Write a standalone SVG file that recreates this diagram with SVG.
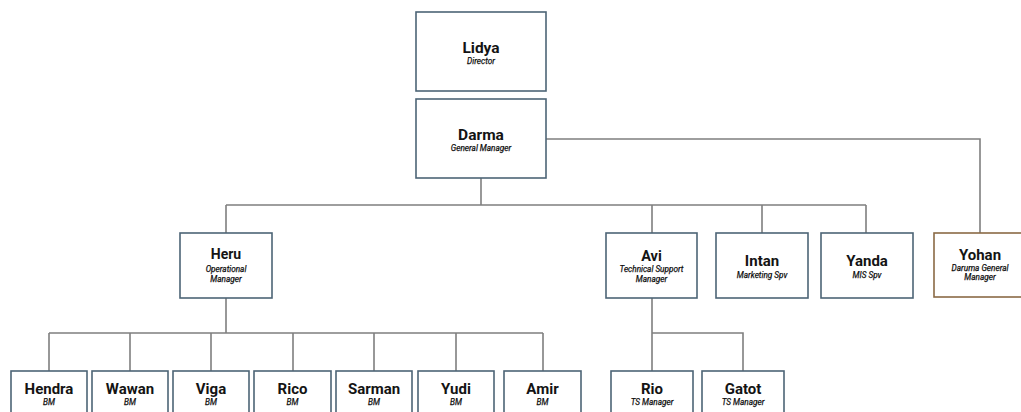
<svg xmlns="http://www.w3.org/2000/svg" width="1021" height="412" viewBox="0 0 1021 412">
<style>
.box{fill:#fff;stroke:#4d6476;stroke-width:1.6}
.brown{fill:#fff;stroke:#8a6a45;stroke-width:1.6}
.con{fill:none;stroke:#7f7f7f;stroke-width:1.6}
.nm{font-family:Roboto,"Liberation Sans",sans-serif;font-weight:bold;fill:#141414;text-anchor:middle}
.sub{font-family:Roboto,"Liberation Sans",sans-serif;font-style:italic;font-size:8.2px;fill:#111;stroke:#111;stroke-width:0.25;text-anchor:middle}
</style>
<rect width="1021" height="412" fill="#fff"/>
<g id="connectors">
<path class="con" d="M546 139H980V233"/>
<path class="con" d="M481 178V205"/>
<path class="con" d="M226 205H866M226 205V233M652 205V233M762 205V233M866 205V233"/>
<path class="con" d="M226 298V333M49 333H543M49 333V371M130 333V371M211 333V371M293 333V371M374 333V371M456 333V371M543 333V371"/>
<path class="con" d="M652 298V333H743V371M652 333V371"/>
</g>
<g id="lidya"><rect class="box" x="416" y="12" width="130" height="79"/><text class="nm" x="481" y="53" font-size="15.5">Lidya</text><text class="sub" x="481" y="63.5">Director</text></g>
<g id="darma"><rect class="box" x="416" y="99" width="130" height="79"/><text class="nm" x="481" y="140" font-size="15.5">Darma</text><text class="sub" x="481" y="151">General Manager</text></g>
<g id="heru"><rect class="box" x="180" y="233" width="92" height="65"/><text class="nm" x="226" y="259" font-size="14">Heru</text><text class="sub" x="226" y="272">Operational</text><text class="sub" x="226" y="282">Manager</text></g>
<g id="avi"><rect class="box" x="606" y="233" width="91" height="65"/><text class="nm" x="651.5" y="261" font-size="14.5">Avi</text><text class="sub" x="651.5" y="272">Technical Support</text><text class="sub" x="651.5" y="282">Manager</text></g>
<g id="intan"><rect class="box" x="716" y="233" width="92" height="65"/><text class="nm" x="762" y="266" font-size="15">Intan</text><text class="sub" x="762" y="277.5">Marketing Spv</text></g>
<g id="yanda"><rect class="box" x="821" y="233" width="92" height="65"/><text class="nm" x="867" y="266" font-size="15">Yanda</text><text class="sub" x="867" y="277.5">MIS Spv</text></g>
<g id="yohan"><rect class="brown" x="934" y="233" width="92" height="64"/><text class="nm" x="980" y="259.5" font-size="15">Yohan</text><text class="sub" x="980" y="270.5">Daruma General</text><text class="sub" x="980" y="279.5">Manager</text></g>
<g id="hendra"><rect class="box" x="11" y="371" width="76" height="50"/><text class="nm" x="49" y="393.5" font-size="15">Hendra</text><text class="sub" x="49" y="405">BM</text></g>
<g id="wawan"><rect class="box" x="92" y="371" width="76" height="50"/><text class="nm" x="130" y="393.5" font-size="15">Wawan</text><text class="sub" x="130" y="405">BM</text></g>
<g id="viga"><rect class="box" x="173" y="371" width="76" height="50"/><text class="nm" x="211" y="393.5" font-size="15">Viga</text><text class="sub" x="211" y="405">BM</text></g>
<g id="rico"><rect class="box" x="254" y="371" width="77" height="50"/><text class="nm" x="292.5" y="393.5" font-size="15">Rico</text><text class="sub" x="292.5" y="405">BM</text></g>
<g id="sarman"><rect class="box" x="336" y="371" width="76" height="50"/><text class="nm" x="374" y="393.5" font-size="15">Sarman</text><text class="sub" x="374" y="405">BM</text></g>
<g id="yudi"><rect class="box" x="418" y="371" width="76" height="50"/><text class="nm" x="456" y="393.5" font-size="15">Yudi</text><text class="sub" x="456" y="405">BM</text></g>
<g id="amir"><rect class="box" x="504" y="371" width="77" height="50"/><text class="nm" x="542.5" y="393.5" font-size="15">Amir</text><text class="sub" x="542.5" y="405">BM</text></g>
<g id="rio"><rect class="box" x="611" y="371" width="82" height="50"/><text class="nm" x="652" y="393.5" font-size="15">Rio</text><text class="sub" x="652" y="405">TS Manager</text></g>
<g id="gatot"><rect class="box" x="702" y="371" width="82" height="50"/><text class="nm" x="743" y="393.5" font-size="15">Gatot</text><text class="sub" x="743" y="405">TS Manager</text></g>
</svg>
